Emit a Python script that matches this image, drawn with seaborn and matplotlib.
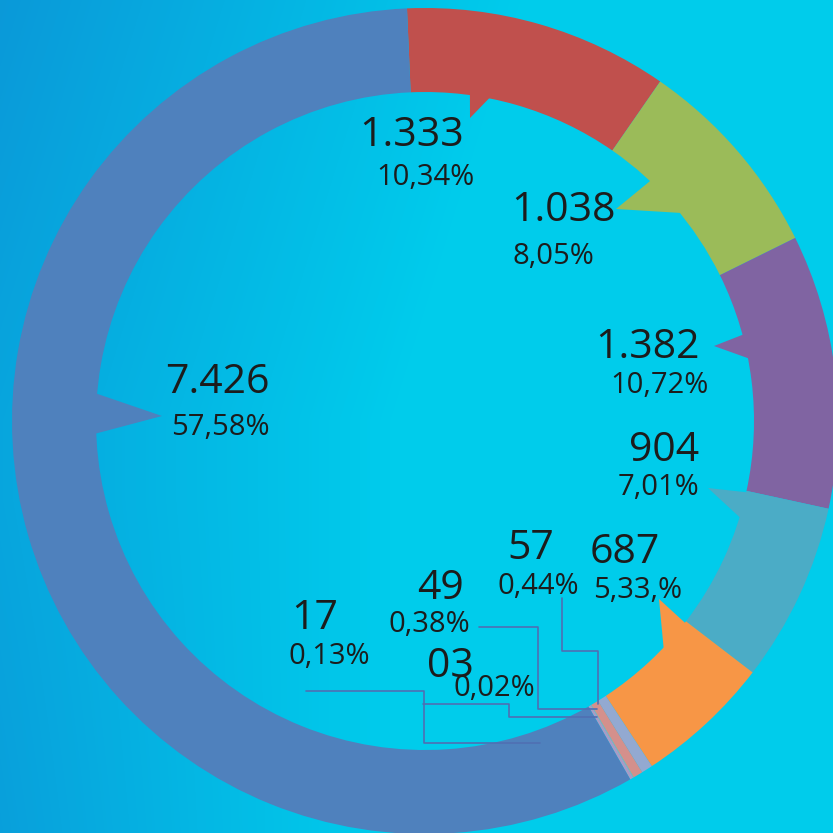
import numpy as np
import matplotlib
matplotlib.use("Agg")
import matplotlib.pyplot as plt
import seaborn as sns

# data
values = [1333, 1038, 1382, 904, 687, 57, 49, 3, 17, 7426]
value_labels = ["1.333", "1.038", "1.382", "904", "687", "57", "49", "03", "17", "7.426"]
pct_labels = ["10,34%", "8,05%", "10,72%", "7,01%", "5,33,%", "0,44%", "0,38%", "0,02%", "0,13%", "57,58%"]
colors = ["#C0504D", "#9BBB59", "#8064A2", "#4BACC6", "#F79646",
          "#93A9D1", "#D4908C", "#9CC3A0", "#A79CC6", "#4F81BD"]

sns.set_style("white")
plt.rcParams['font.family'] = ['Open Sans', 'DejaVu Sans']

W = 833
def px(x, y):
    # picture pixel -> data coords (y up)
    return x, W - y

cx, cy = px(425, 421)
R = 413
ring = 84
r_in = R - ring

fig = plt.figure(figsize=(8.33, 8.33), dpi=100)
ax = fig.add_axes([0, 0, 1, 1])

# background gradient
yy, xx = np.mgrid[0:W, 0:W]
t = np.clip(0.25 + xx / 520.0 - 0.25 * np.clip(1 - yy / 420.0, 0, 1)
            - 0.12 * np.clip((yy - 500) / 333.0, 0, 1) * np.clip(1 - xx / 300.0, 0, 1), 0, 1)
dark = np.array([0.04, 0.60, 0.85])
light = np.array([0.0, 0.80, 0.925])
bg = dark[None, None, :] * (1 - t[..., None]) + light[None, None, :] * t[..., None]
ax.imshow(bg, extent=(0, W, 0, W), origin='upper', zorder=0)

wedges, _ = ax.pie(values, colors=sns.color_palette(colors), radius=R, center=(cx, cy),
                   startangle=92.5, counterclock=False, frame=True,
                   wedgeprops=dict(width=ring, linewidth=0))
for w in wedges:
    w.set_zorder(2)

# callout notches: base angles on the inner edge and tip at the label
callouts = [
    (0, 82.3, 78.1, (470, 118)),
    (1, 46.7, 38.3, (616, 209)),
    (2, 15.3, 10.4, (714, 346)),
    (3, -12.4, -17.5, (708, 488)),
    (4, -44.4, -37.9, (659, 599)),
    (9, 175.0, 182.4, (162, 416)),
]
for i, a1, a2, tip in callouts:
    rb = r_in + 6
    p1 = (cx + rb * np.cos(np.radians(a1)), cy + rb * np.sin(np.radians(a1)))
    p2 = (cx + rb * np.cos(np.radians(a2)), cy + rb * np.sin(np.radians(a2)))
    ax.add_patch(plt.Polygon([p1, px(*tip), p2], closed=True, color=colors[i],
                             lw=0, zorder=2))

# label positions (left edge, centre y) in picture pixels
val_pos = [(359, 136), (511, 211), (595, 348), (629, 451), (590, 553),
           (507, 549), (417, 589), (427, 667), (291, 619), (165, 383)]
pct_pos = [(376, 177), (512, 256), (610, 385), (618, 487), (593, 591),
           (498, 587), (389, 625), (454, 688), (289, 657), (171, 427)]
for i in range(len(values)):
    x, y = px(*val_pos[i])
    ax.text(x, y, value_labels[i], fontsize=29.5, color="#1c1c1c",
            ha="left", va="center", zorder=4)
    x, y = px(*pct_pos[i])
    ax.text(x, y, pct_labels[i], fontsize=21, color="#1c1c1c",
            ha="left", va="center", zorder=4)

# leader lines for the small slices
leaders = [
    [(562, 598), (562, 651), (598, 651), (598, 704)],
    [(479, 627), (538, 627), (538, 709), (597, 709)],
    [(423, 704), (509, 704), (509, 717), (597, 717)],
    [(306, 691), (424, 691), (424, 743), (540, 743)],
]
for pts in leaders:
    xs = [p[0] for p in pts]
    ys = [W - p[1] for p in pts]
    ax.plot(xs, ys, color="#4F6FB3", lw=1.2, zorder=3)

ax.set_xlim(0, W)
ax.set_ylim(0, W)
ax.set_aspect('equal')
ax.set_axis_off()

fig.savefig("out.png", dpi=100)
